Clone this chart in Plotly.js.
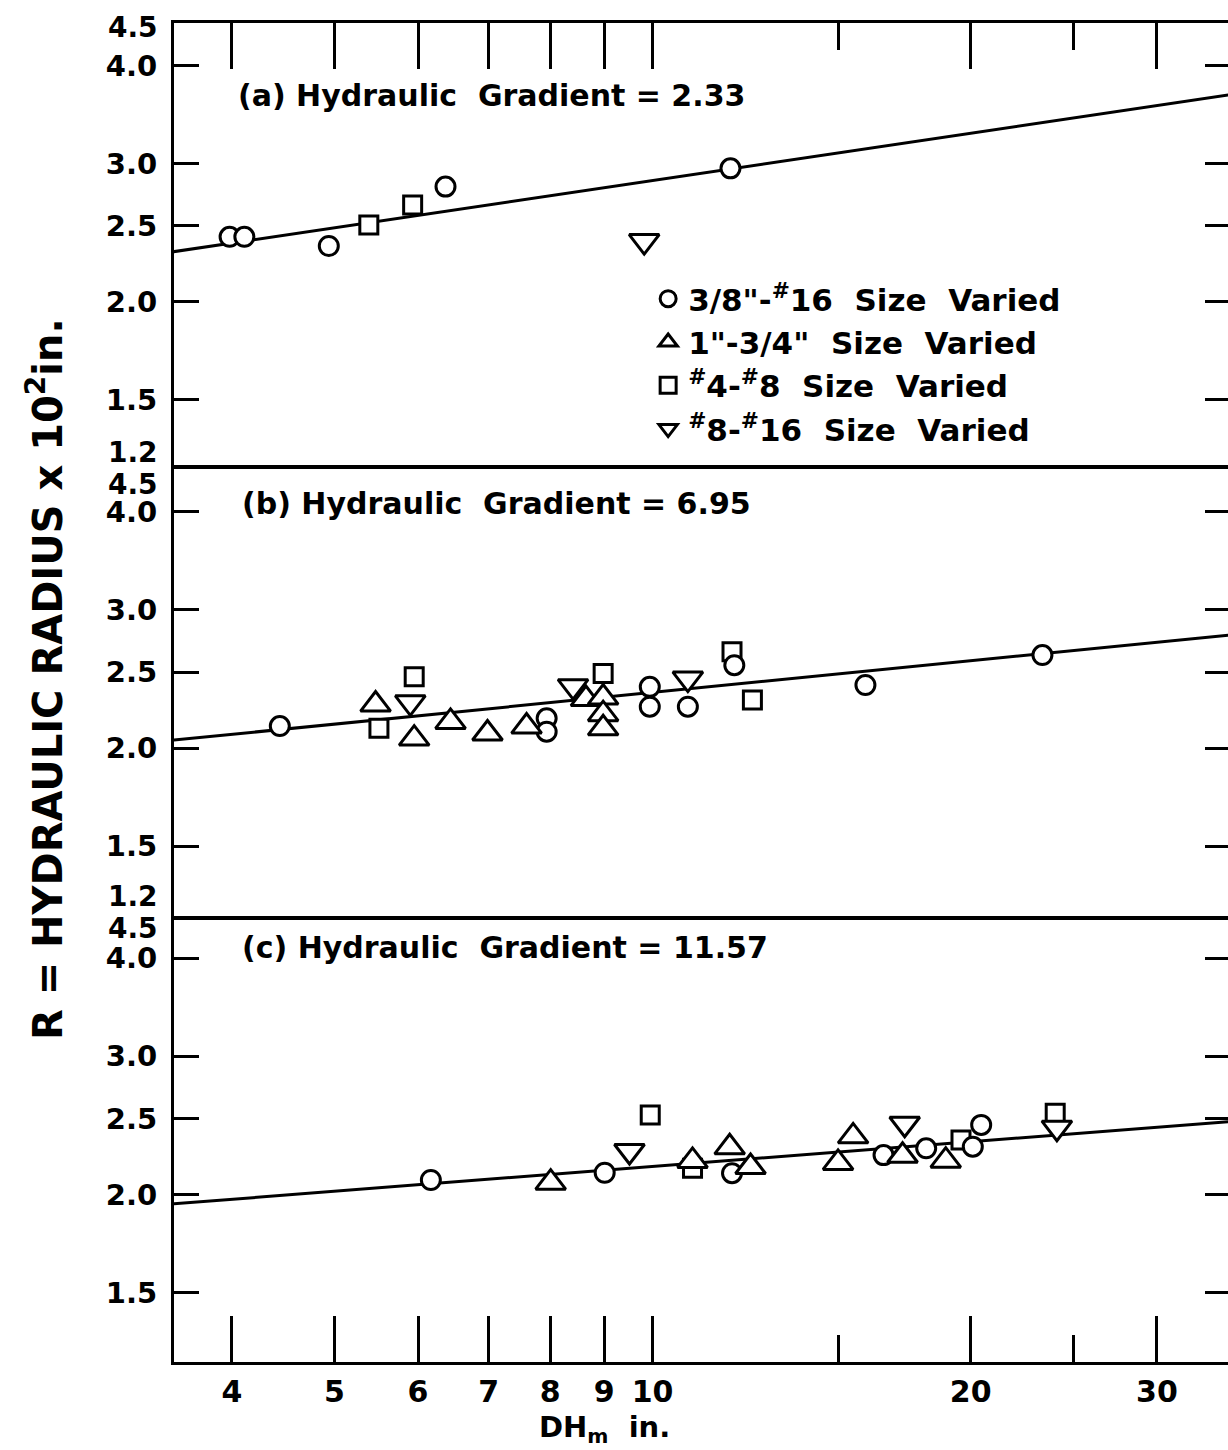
<!DOCTYPE html>
<html>
<head>
<meta charset="utf-8">
<script src="https://cdn.plot.ly/plotly-3.0.1.min.js"></script>
<style>
html,body{margin:0;padding:0;background:#ffffff;overflow:hidden;width:1228px;height:1450px;}
#chart{width:1232px;height:1450px;}
</style>
</head>
<body>
<div id="chart"></div>
<script>
// ---------------- data ----------------
const xTickVals = [4, 5, 6, 7, 8, 9, 10, 20, 30];
const xTickText = ['4', '5', '6', '7', '8', '9', '10', '20', '30'];
const xMinorVals = [15, 25];
const yTickVals = [1.5, 2.0, 2.5, 3.0, 4.0];
const yTickText = ['1.5', '2.0', '2.5', '3.0', '4.0'];
const yLongTickVals = [2.0, 3.0, 4.0];
const yEdgeText = ['4.5', '1.2'];   // labels written at the top / bottom edge of each panel
const xRange = [3.526, 35.18];
const yRange = [1.224, 4.53];

const panelTitles = ['(a) Hydraulic\u00a0 Gradient = 2.33', '(b) Hydraulic\u00a0 Gradient = 6.95', '(c) Hydraulic\u00a0 Gradient = 11.57'];
const seriesNames = [
  '3/8"-<sup>#</sup>16\u00a0 Size\u00a0 Varied',
  '1"-3/4"\u00a0 Size\u00a0 Varied',
  '<sup>#</sup>4-<sup>#</sup>8\u00a0 Size\u00a0 Varied',
  '<sup>#</sup>8-<sup>#</sup>16\u00a0 Size\u00a0 Varied'
];

// panel (a)
const a_circle_x = [3.98, 4.11, 4.94, 6.37, 11.85];
const a_circle_y = [2.42, 2.42, 2.356, 2.804, 2.958];
const a_triup_x = [];
const a_triup_y = [];
const a_square_x = [5.39, 5.93];
const a_square_y = [2.505, 2.657];
const a_tridown_x = [9.82];
const a_tridown_y = [2.39];

// panel (b)
const b_circle_x = [4.44, 7.94, 7.94, 9.94, 9.94, 10.80, 11.95, 15.90, 23.38];
const b_circle_y = [2.134, 2.183, 2.099, 2.394, 2.259, 2.259, 2.551, 2.407, 2.628];
const b_triup_x = [5.47, 5.95, 6.44, 6.98, 7.60, 8.65, 8.98, 8.98, 8.98];
const b_triup_y = [2.273, 2.057, 2.160, 2.088, 2.131, 2.31, 2.32, 2.21, 2.12];
const b_square_x = [5.51, 5.95, 8.98, 11.89, 12.43];
const b_square_y = [2.120, 2.466, 2.49, 2.653, 2.303];
const b_tridown_x = [5.90, 8.41, 10.80];
const b_tridown_y = [2.288, 2.399, 2.453];

// panel (c)
const c_circle_x = [6.17, 9.01, 11.89, 16.54, 18.15, 20.09, 20.46];
const c_circle_y = [2.087, 2.132, 2.129, 2.245, 2.290, 2.301, 2.453];
const c_triup_x = [8.01, 10.91, 11.83, 12.38, 14.98, 15.48, 17.24, 18.94];
const c_triup_y = [2.071, 2.207, 2.297, 2.168, 2.194, 2.372, 2.241, 2.209];
const c_square_x = [9.95, 10.91, 19.58, 24.04];
const c_square_y = [2.525, 2.16, 2.347, 2.538];
const c_tridown_x = [9.51, 17.32, 24.13];
const c_tridown_y = [2.272, 2.461, 2.433];

// fitted lines (end points)
const fit_x = [3.5, 35.5];
const fitA_y = [2.314, 3.678];
const fitB_y = [2.046, 2.791];
const fitC_y = [1.945, 2.480];

// ---------------- build ----------------
const FONT = 'DejaVu Sans';
const symbols = ['circle', 'triangle-up', 'square', 'triangle-down'];
const symSizes = [19, 26, 18, 26];

const panels = [
  {xa: 'x', ya: 'y', fit: fitA_y, sets: [[a_circle_x, a_circle_y], [a_triup_x, a_triup_y], [a_square_x, a_square_y], [a_tridown_x, a_tridown_y]]},
  {xa: 'x2', ya: 'y2', fit: fitB_y, sets: [[b_circle_x, b_circle_y], [b_triup_x, b_triup_y], [b_square_x, b_square_y], [b_tridown_x, b_tridown_y]]},
  {xa: 'x3', ya: 'y3', fit: fitC_y, sets: [[c_circle_x, c_circle_y], [c_triup_x, c_triup_y], [c_square_x, c_square_y], [c_tridown_x, c_tridown_y]]}
];

const traces = [];
panels.forEach(p => {
  traces.push({
    x: fit_x, y: p.fit, xaxis: p.xa, yaxis: p.ya, mode: 'lines',
    line: {color: '#000', width: 3}, showlegend: false, hoverinfo: 'skip'
  });
});
const shown = {};
[2, 0, 1, 3].forEach(s => {
  panels.forEach(p => {
    const d = p.sets[s];
    if (!d[0].length) return;
    const show = !shown[s];
    shown[s] = true;
    traces.push({
      x: d[0], y: d[1], xaxis: p.xa, yaxis: p.ya, mode: 'markers',
      name: seriesNames[s], showlegend: show, legendrank: s + 1,
      marker: {symbol: symbols[s], size: symSizes[s], color: '#ffffff', line: {color: '#000', width: 3}},
      cliponaxis: false
    });
  });
});

const lg = v => Math.log10(v);
const xr = [lg(xRange[0]), lg(xRange[1])];
const yr = [lg(yRange[0]), lg(yRange[1])];

function xAxis(opts) {
  return Object.assign({
    type: 'log', range: xr, showgrid: false, zeroline: false,
    showline: true, linecolor: '#000', linewidth: 3,
    ticks: 'inside', tickmode: 'array', tickvals: xTickVals, ticktext: xTickText,
    ticklen: 46, tickwidth: 3, tickcolor: '#000',
    minor: {tickmode: 'array', tickvals: xMinorVals, ticks: 'inside', ticklen: 27, tickwidth: 3, tickcolor: '#000', showgrid: false},
    tickfont: {family: FONT, size: 30, color: '#000', weight: 'bold'},
    fixedrange: true
  }, opts);
}
function yAxis(opts) {
  return Object.assign({
    type: 'log', range: yr, showgrid: false, zeroline: false,
    showline: true, linecolor: '#000', linewidth: 3, mirror: 'ticks',
    ticks: 'inside', tickmode: 'array', tickvals: yTickVals, ticktext: yTickText,
    ticklen: 25, tickwidth: 3, tickcolor: '#000', ticklabelstandoff: 8,
    tickfont: {family: FONT, size: 29, color: '#000', weight: 'bold'},
    fixedrange: true
  }, opts);
}
function yLong(over, anchor) {
  return {
    type: 'log', range: yr, overlaying: over, anchor: anchor, side: 'left',
    showgrid: false, zeroline: false, showline: false, mirror: 'ticks',
    ticks: 'inside', tickmode: 'array', tickvals: yLongTickVals,
    ticklen: 50, tickwidth: 3, tickcolor: '#000', showticklabels: false, fixedrange: true
  };
}

const annotations = [];
const panelTitleX = [0.0587, 0.0625, 0.0625];
const panelTitleY = [0.9455, 0.6415, 0.3099];
panelTitles.forEach((t, i) => {
  annotations.push({
    text: t, xref: 'paper', yref: 'paper', x: panelTitleX[i], y: panelTitleY[i],
    xanchor: 'left', yanchor: 'middle', showarrow: false,
    font: {family: FONT, size: 30, color: '#000', weight: 'bold'}
  });
});
// edge labels at the top (4.5) and bottom (1.2) of each panel
const topShift = [-4, -15, -13];
const botShift = [17, 19];
['y domain', 'y2 domain', 'y3 domain'].forEach((yref, i) => {
  annotations.push({
    text: yEdgeText[0], xref: 'paper', yref: yref, x: -0.013, y: 1,
    xanchor: 'right', yanchor: 'middle', yshift: topShift[i], showarrow: false,
    font: {family: FONT, size: 28, color: '#000', weight: 'bold'}
  });
  if (i < 2) {
    annotations.push({
      text: yEdgeText[1], xref: 'paper', yref: yref, x: -0.013, y: 0,
      xanchor: 'right', yanchor: 'middle', yshift: botShift[i], showarrow: false,
      font: {family: FONT, size: 28, color: '#000', weight: 'bold'}
    });
  }
});
annotations.push({
  text: 'R = HYDRAULIC RADIUS x 10<sup>2</sup>in.', xref: 'paper', yref: 'paper',
  x: -0.1222, y: 0.51, xanchor: 'center', yanchor: 'middle', textangle: -90, showarrow: false,
  font: {family: FONT, size: 40, color: '#000', weight: 'bold'}
});
annotations.push({
  text: 'DH<sub>m</sub>  in.', xref: 'paper', yref: 'paper',
  x: 0.408, y: -0.05, xanchor: 'center', yanchor: 'middle', showarrow: false,
  font: {family: FONT, size: 29, color: '#000', weight: 'bold'}
});

const layout = {
  width: 1232, height: 1450,
  margin: {l: 174, r: 2, t: 23, b: 88, pad: 0},
  paper_bgcolor: '#ffffff', plot_bgcolor: '#ffffff',
  showlegend: true,
  legend: {
    x: 0.449, y: 0.814, xanchor: 'left', yanchor: 'top',
    bgcolor: 'rgba(0,0,0,0)', borderwidth: 0,
    font: {family: FONT, size: 31, color: '#000', weight: 'bold'},
    itemclick: false, itemdoubleclick: false
  },
  xaxis: xAxis({anchor: 'y', side: 'top', showticklabels: false}),
  xaxis2: xAxis({anchor: 'y2', ticks: '', showticklabels: false, mirror: true, linewidth: 4, minor: {ticks: ''}}),
  xaxis3: xAxis({anchor: 'y3', side: 'bottom', ticklabelstandoff: 1}),
  yaxis: yAxis({domain: [2 / 3, 1], anchor: 'x'}),
  yaxis2: yAxis({domain: [1 / 3, 2 / 3], anchor: 'x2'}),
  yaxis3: yAxis({domain: [0, 1 / 3], anchor: 'x3'}),
  yaxis4: yLong('y', 'x'),
  yaxis5: yLong('y2', 'x2'),
  yaxis6: yLong('y3', 'x3'),
  annotations: annotations
};

Plotly.newPlot('chart', traces, layout, {displayModeBar: false, staticPlot: true});
</script>
</body>
</html>
